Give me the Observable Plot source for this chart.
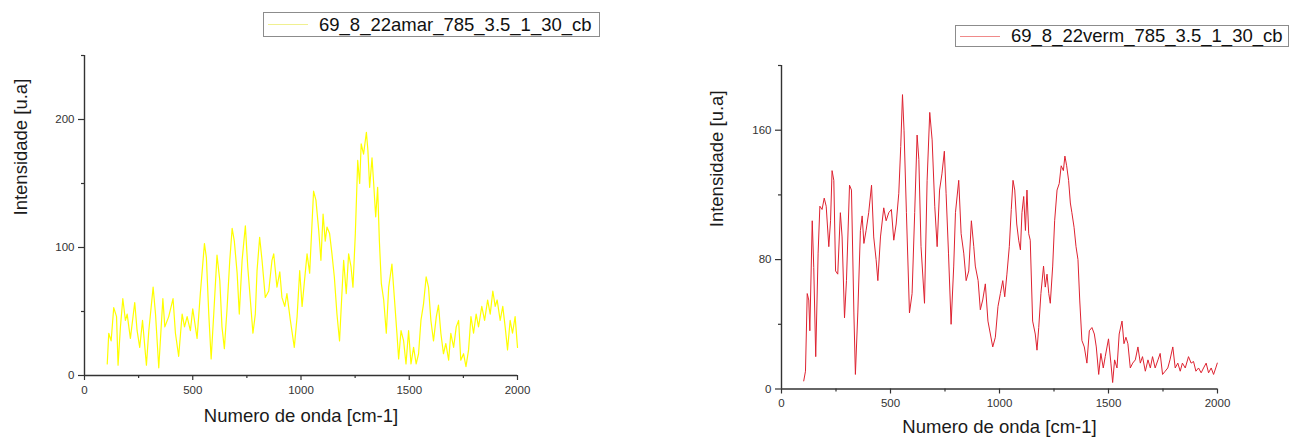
<!DOCTYPE html>
<html>
<head>
<meta charset="utf-8">
<script src="https://cdn.jsdelivr.net/npm/d3@7"></script>
<script src="https://cdn.jsdelivr.net/npm/@observablehq/plot@0.6"></script>
<style>
  body { margin: 0; background: #fff; font-family: "Liberation Sans", Arial, sans-serif; }
  #root { position: relative; width: 1290px; height: 441px; overflow: hidden; background: #fff; }
  .panel { position: absolute; top: 0; }
  .legend { position: absolute; border: 1px solid #8c8c8c; background: #fff; display: flex; align-items: center;
            font-size: 18.5px; color: #111; white-space: nowrap; box-sizing: border-box; }
  .legend .swatch { display: inline-block; width: 40px; height: 0; border-top: 1px solid; margin: 0 11px 0 4px; }
</style>
</head>
<body>
<div id="root"></div>
<script>
// ---------- data ----------
const xTitle = "Numero de onda [cm-1]";
const yTitle = "Intensidade [u.a]";

const leftName = "69_8_22amar_785_3.5_1_30_cb";
const leftWavenumber = [105,112,123,135,148,155,166,177,189,197,212,232,243,255,268,286,297,317,328,343,362,371,389,409,420,435,451,462,474,489,500,520,535,554,563,574,585,597,612,625,635,646,658,671,682,692,705,715,728,743,754,766,778,789,797,809,820,835,851,866,874,889,902,912,925,935,951,969,982,994,1005,1015,1028,1040,1058,1069,1082,1092,1102,1112,1120,1132,1143,1154,1166,1178,1189,1197,1209,1220,1231,1240,1251,1262,1271,1278,1289,1302,1309,1317,1328,1335,1345,1354,1362,1371,1382,1394,1405,1420,1432,1443,1451,1462,1474,1485,1497,1508,1520,1532,1543,1554,1566,1578,1589,1600,1612,1625,1635,1646,1658,1669,1682,1692,1705,1717,1728,1738,1751,1762,1774,1785,1797,1809,1820,1835,1848,1862,1874,1886,1897,1906,1920,1932,1943,1954,1966,1977,1989,2000];
const leftIntensity = [9,33,27,53,46,8,38,60,43,48,29,57,35,22,43,8,35,69,48,6,60,38,46,60,33,15,48,38,46,35,52,29,64,103,92,48,13,48,94,74,38,21,51,90,115,105,80,48,90,117,85,59,33,48,82,108,90,61,66,90,95,69,81,61,54,64,43,22,46,82,54,72,95,80,144,137,113,90,126,105,116,111,95,77,48,27,64,90,64,95,85,69,111,168,150,181,173,190,176,147,170,152,124,147,105,72,59,33,69,87,59,33,13,35,27,9,35,9,22,9,17,43,56,77,69,43,27,46,55,33,17,25,12,33,22,38,43,12,17,7,20,46,33,48,38,54,43,59,48,66,54,59,43,54,38,20,43,33,46,22];

const rightName = "69_8_22verm_785_3.5_1_30_cb";
const rightWavenumber = [102,110,118,125,130,141,148,157,168,176,186,196,205,217,225,232,240,248,258,270,278,289,298,312,321,332,339,350,362,370,378,388,400,413,423,434,442,454,469,480,492,504,515,526,538,547,555,562,573,587,599,611,622,630,640,656,668,680,691,703,714,725,736,747,755,766,778,790,798,813,824,836,847,859,871,882,889,902,912,923,935,947,958,969,981,993,1004,1015,1024,1034,1045,1054,1062,1070,1079,1088,1096,1103,1111,1119,1126,1134,1141,1152,1164,1172,1180,1190,1202,1210,1218,1226,1233,1244,1253,1264,1274,1283,1293,1300,1308,1317,1325,1332,1342,1351,1360,1368,1378,1389,1401,1412,1424,1435,1444,1455,1465,1476,1485,1500,1511,1519,1528,1539,1549,1562,1571,1580,1589,1600,1611,1623,1635,1646,1656,1669,1681,1692,1702,1714,1727,1737,1748,1760,1772,1782,1795,1806,1818,1829,1839,1852,1867,1879,1890,1901,1913,1925,1936,1948,1959,1971,1982,1992,1999];
const rightIntensity = [5,11,59,55,36,104,75,20,84,113,111,118,113,88,104,135,129,73,71,109,94,44,67,126,123,47,9,47,98,107,90,98,109,126,94,80,67,94,112,104,109,111,92,102,121,150,182,160,109,47,59,109,157,142,88,53,129,171,154,113,88,123,133,147,121,84,40,76,109,129,96,84,67,73,104,88,76,67,49,55,65,42,34,26,32,51,59,67,57,71,88,111,129,123,102,92,86,109,119,98,123,96,92,42,34,24,38,59,76,63,71,59,53,76,104,123,127,138,135,144,138,129,115,109,100,88,80,55,30,26,16,36,38,34,26,9,22,13,20,31,16,4,18,13,34,42,28,32,28,13,16,18,26,16,20,11,18,13,20,13,18,22,9,11,13,18,26,13,16,11,16,13,20,16,17,11,13,10,13,16,10,13,9,13,16];

const xMajor = [0, 500, 1000, 1500, 2000];
const xMinor = [250, 750, 1250, 1750];
const leftYMajor = [0, 100, 200];
const leftYMinor = [50, 150, 250];
const rightYMajor = [0, 80, 160];
const rightYMinor = [40, 120, 200];

// ---------- drawing ----------
const FONT = '"Liberation Sans", Arial, sans-serif';
const AXIS = "#333";
const fmt = d3.format("d");

function panel(o) {
  const data = o.x.map((d, i) => ({x: d, y: o.y[i]}));
  return Plot.plot({
    width: o.width, height: o.height,
    marginLeft: o.ml, marginRight: o.mr, marginTop: o.mt, marginBottom: o.mb,
    style: {fontFamily: FONT, fontSize: "11.5px", color: "#333", background: "transparent", overflow: "visible"},
    x: {domain: [0, 2000]},
    y: {domain: o.yDomain},
    marks: [
      Plot.line(data, {x: "x", y: "y", stroke: o.color, strokeWidth: o.lw}),
      Plot.ruleX([0], {stroke: AXIS, strokeWidth: 1.4}),
      Plot.ruleY([0], {stroke: AXIS, strokeWidth: 1.4}),
      Plot.axisX(xMajor, {tickSize: 5, tickPadding: 5, tickFormat: fmt, label: null, stroke: AXIS, strokeWidth: 1.2}),
      Plot.axisX(xMinor, {tickSize: 3, tickFormat: () => "", label: null, stroke: AXIS, strokeWidth: 1.2}),
      Plot.axisY(o.yMajor, {tickSize: 6, tickPadding: 4, tickFormat: fmt, label: null, stroke: AXIS, strokeWidth: 1.2}),
      Plot.axisY(o.yMinor, {tickSize: 3, tickFormat: () => "", label: null, stroke: AXIS, strokeWidth: 1.2}),
      Plot.text([xTitle], {frameAnchor: "bottom", dy: o.xTitleDy, fontSize: 18.5, fill: "#1a1a1a"}),
      Plot.text([yTitle], {frameAnchor: "left", dx: o.yTitleDx, rotate: -90, fontSize: 18.5, fill: "#1a1a1a"})
    ]
  });
}

function legend(name, color, left, top, width, height) {
  const d = document.createElement("div");
  d.className = "legend";
  Object.assign(d.style, {left: left + "px", top: top + "px", width: width + "px", height: height + "px"});
  const s = document.createElement("span");
  s.className = "swatch";
  s.style.borderTopColor = color;
  d.appendChild(s);
  const t = document.createElement("span");
  t.textContent = name;
  d.appendChild(t);
  return d;
}

const root = document.getElementById("root");

const left = panel({
  x: leftWavenumber, y: leftIntensity, color: "#ffff00", lw: 1.2,
  width: 640, height: 441, ml: 84, mr: 123, mt: 55, mb: 66,
  yDomain: [0, 250], yMajor: leftYMajor, yMinor: leftYMinor,
  xTitleDy: 46, yTitleDx: -63
});
left.classList.add("panel");
left.style.left = "0px";
root.appendChild(left);

const right = panel({
  x: rightWavenumber, y: rightIntensity, color: "#de2230", lw: 1,
  width: 650, height: 441, ml: 141, mr: 73, mt: 65, mb: 52.5,
  yDomain: [0, 200], yMajor: rightYMajor, yMinor: rightYMinor,
  xTitleDy: 44, yTitleDx: -64
});
right.classList.add("panel");
right.style.left = "640px";
root.appendChild(right);

root.appendChild(legend(leftName, "#f0f090", 263, 12, 337, 25));
root.appendChild(legend(rightName, "#f08a8a", 955, 25, 334, 22));
</script>
</body>
</html>
